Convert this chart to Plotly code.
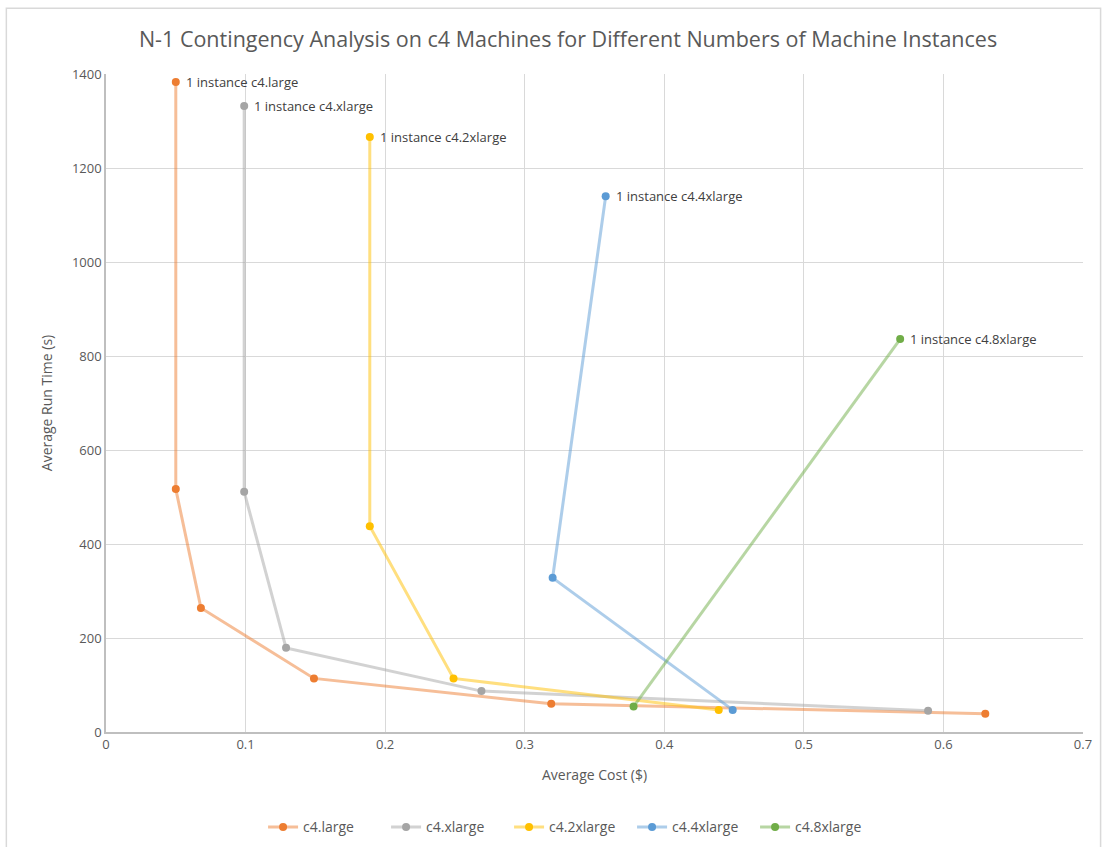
import plotly.graph_objects as go

series_names = ["c4.large", "c4.xlarge", "c4.2xlarge", "c4.4xlarge", "c4.8xlarge"]
cost_large = [0.05, 0.05, 0.068, 0.149, 0.319, 0.63]
time_large = [1383, 517, 264, 114, 60, 39]
cost_xlarge = [0.099, 0.099, 0.129, 0.269, 0.589]
time_xlarge = [1332, 511, 179, 87, 45]
cost_2xlarge = [0.189, 0.189, 0.249, 0.439]
time_2xlarge = [1266, 438, 114, 47]
cost_4xlarge = [0.358, 0.32, 0.449]
time_4xlarge = [1140, 328, 47]
cost_8xlarge = [0.569, 0.378]
time_8xlarge = [836, 54]
label_texts = ["1 instance c4.large", "1 instance c4.xlarge", "1 instance c4.2xlarge",
               "1 instance c4.4xlarge", "1 instance c4.8xlarge"]

colors = ["#ED7D31", "#A5A5A5", "#FFC000", "#5B9BD5", "#70AD47"]
line_colors = ["rgba(237,125,49,0.5)", "rgba(165,165,165,0.5)", "rgba(255,192,0,0.5)",
               "rgba(91,155,213,0.5)", "rgba(112,173,71,0.5)"]

costs = [cost_large, cost_xlarge, cost_2xlarge, cost_4xlarge, cost_8xlarge]
times = [time_large, time_xlarge, time_2xlarge, time_4xlarge, time_8xlarge]

font_family = "Open Sans, Noto Sans, sans-serif"
fig = go.Figure()
for name, xs, ys, c, lc in zip(series_names, costs, times, colors, line_colors):
    fig.add_trace(go.Scatter(x=xs, y=ys, name=name, mode="lines+markers",
                             line=dict(color=lc, width=3),
                             marker=dict(color=c, size=8)))

for xs, ys, t in zip(costs, times, label_texts):
    fig.add_annotation(x=xs[0], y=ys[0], text=t, showarrow=False, xanchor="left",
                       xshift=8, font=dict(size=13, color="#404040", family=font_family))

fig.add_shape(type="rect", xref="paper", yref="paper", x0=-0.102, x1=1.018, y0=-0.2, y1=1.1,
              line=dict(color="#D9D9D9", width=1.5), layer="below")

fig.update_layout(
    width=1103, height=847,
    margin=dict(l=106, r=20, t=74, b=115, autoexpand=False),
    paper_bgcolor="white", plot_bgcolor="white",
    font=dict(family=font_family, color="#595959"),
    title=dict(text="N-1 Contingency Analysis on c4 Machines for Different Numbers of Machine Instances",
               x=0.515, xanchor="center", y=0.953, yanchor="middle",
               font=dict(size=21.5, color="#595959", family=font_family)),
    xaxis=dict(range=[0, 0.7], dtick=0.1, tick0=0, showgrid=True, gridcolor="#D9D9D9",
               gridwidth=1, zeroline=False, showline=True, linecolor="#BFBFBF", linewidth=1.5,
               ticks="", tickfont=dict(size=13, color="#595959"),
               title=dict(text="Average Cost ($)", font=dict(size=14, color="#595959"), standoff=18)),
    yaxis=dict(range=[0, 1400], dtick=200, showgrid=True, gridcolor="#D9D9D9", gridwidth=1,
               zeroline=False, showline=True, linecolor="#BFBFBF", linewidth=1.5,
               ticks="", tickfont=dict(size=13, color="#595959"),
               title=dict(text="Average Run Time (s)", font=dict(size=14, color="#595959"), standoff=16)),
    legend=dict(orientation="h", x=0.4755, xanchor="center", y=-0.145, yanchor="middle",
                entrywidth=78, font=dict(size=14, color="#595959")),
)

fig.write_html("out.html")
